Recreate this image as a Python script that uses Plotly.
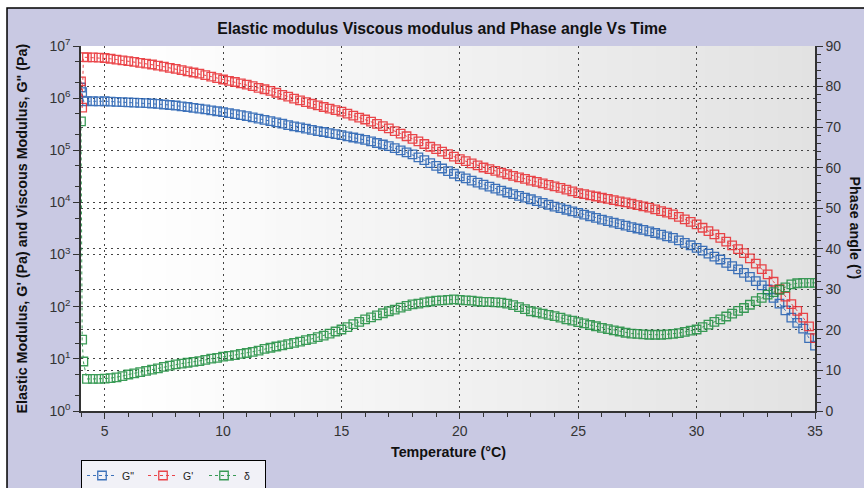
import plotly.graph_objects as go

# ---------------- data ----------------
temperature = [4.0, 4.05, 4.1,
               4.25, 4.5, 4.75, 5.0, 5.25, 5.5, 5.75, 6.0, 6.25, 6.5, 6.75, 7.0,
               7.25, 7.5, 7.75, 8.0, 8.25, 8.5, 8.75, 9.0, 9.25, 9.5, 9.75, 10.0,
               10.25, 10.5, 10.75, 11.0, 11.25, 11.5, 11.75, 12.0, 12.25, 12.5, 12.75, 13.0,
               13.25, 13.5, 13.75, 14.0, 14.25, 14.5, 14.75, 15.0, 15.25, 15.5, 15.75, 16.0,
               16.25, 16.5, 16.75, 17.0, 17.25, 17.5, 17.75, 18.0, 18.25, 18.5, 18.75, 19.0,
               19.25, 19.5, 19.75, 20.0, 20.25, 20.5, 20.75, 21.0, 21.25, 21.5, 21.75, 22.0,
               22.25, 22.5, 22.75, 23.0, 23.25, 23.5, 23.75, 24.0, 24.25, 24.5, 24.75, 25.0,
               25.25, 25.5, 25.75, 26.0, 26.25, 26.5, 26.75, 27.0, 27.25, 27.5, 27.75, 28.0,
               28.25, 28.5, 28.75, 29.0, 29.25, 29.5, 29.75, 30.0, 30.25, 30.5, 30.75, 31.0,
               31.25, 31.5, 31.75, 32.0, 32.25, 32.5, 32.75, 33.0, 33.25, 33.5, 33.75, 34.0,
               34.25, 34.5, 34.75, 35.0]

g_double_prime = [1.6e6, 1.3e6, 8.7e5,
                  8.75e5, 8.72e5, 8.70e5, 8.71e5, 8.61e5, 8.51e5, 8.41e5, 8.32e5,
                  8.20e5, 8.11e5, 8.00e5, 7.89e5, 7.73e5, 7.55e5, 7.39e5, 7.23e5,
                  6.98e5, 6.76e5, 6.53e5, 6.31e5, 6.07e5, 5.82e5, 5.60e5, 5.37e5,
                  5.14e5, 4.92e5, 4.71e5, 4.51e5, 4.28e5, 4.05e5, 3.84e5, 3.63e5,
                  3.43e5, 3.24e5, 3.05e5, 2.88e5, 2.74e5, 2.60e5, 2.47e5, 2.34e5,
                  2.24e5, 2.14e5, 2.04e5, 1.95e5, 1.85e5, 1.76e5, 1.67e5, 1.58e5,
                  1.48e5, 1.38e5, 1.29e5, 1.20e5, 1.10e5, 1.00e5, 9.12e4, 8.32e4,
                  7.33e4, 6.46e4, 5.69e4, 5.01e4, 4.47e4, 3.98e4, 3.55e4, 3.16e4,
                  2.88e4, 2.63e4, 2.40e4, 2.19e4, 2.01e4, 1.84e4, 1.69e4, 1.55e4,
                  1.44e4, 1.33e4, 1.24e4, 1.15e4, 1.06e4, 9.77e3, 9.02e3, 8.32e3,
                  7.76e3, 7.24e3, 6.76e3, 6.31e3, 5.86e3, 5.43e3, 5.05e3, 4.68e3,
                  4.38e3, 4.10e3, 3.84e3, 3.59e3, 3.37e3, 3.16e3, 2.97e3, 2.79e3,
                  2.59e3, 2.42e3, 2.24e3, 2.09e3, 1.87e3, 1.68e3, 1.51e3, 1.35e3,
                  1.19e3, 1.04e3, 914, 804, 693, 600, 518, 447,
                  372, 309, 257, 214, 148, 115, 85, 62,
                  49, 38, 25, 18]

g_prime = [2.1e6, 6.6e5, 6.1e6,
           6.07e6, 6.03e6, 5.96e6, 5.89e6, 5.69e6, 5.50e6, 5.31e6, 5.13e6,
           4.94e6, 4.76e6, 4.58e6, 4.42e6, 4.21e6, 4.01e6, 3.81e6, 3.63e6,
           3.44e6, 3.27e6, 3.10e6, 2.95e6, 2.77e6, 2.59e6, 2.43e6, 2.28e6,
           2.15e6, 2.04e6, 1.92e6, 1.82e6, 1.70e6, 1.58e6, 1.48e6, 1.38e6,
           1.27e6, 1.16e6, 1.07e6, 9.77e5, 9.07e5, 8.41e5, 7.81e5, 7.24e5,
           6.76e5, 6.31e5, 5.89e5, 5.50e5, 5.04e5, 4.62e5, 4.24e5, 3.89e5,
           3.53e5, 3.20e5, 2.90e5, 2.63e5, 2.34e5, 2.09e5, 1.86e5, 1.66e5,
           1.48e5, 1.32e5, 1.17e5, 1.05e5, 9.39e4, 8.41e4, 7.55e4, 6.76e4,
           6.17e4, 5.62e4, 5.13e4, 4.68e4, 4.34e4, 4.03e4, 3.74e4, 3.47e4,
           3.24e4, 3.02e4, 2.82e4, 2.63e4, 2.47e4, 2.32e4, 2.18e4, 2.04e4,
           1.90e4, 1.76e4, 1.63e4, 1.51e4, 1.44e4, 1.36e4, 1.30e4, 1.23e4,
           1.17e4, 1.11e4, 1.05e4, 1.00e4, 9.44e3, 8.91e3, 8.41e3, 7.94e3,
           7.38e3, 6.84e3, 6.35e3, 5.89e3, 5.28e3, 4.73e3, 4.25e3, 3.80e3,
           3.27e3, 2.82e3, 2.43e3, 2.09e3, 1.77e3, 1.50e3, 1.27e3, 1.07e3,
           847, 668, 528, 417, 301, 216, 156, 112,
           83, 62, 42, 25]

phase_angle = [71.4, 17.6, 12.2,
               7.9, 7.9, 7.9, 8.0, 8.1, 8.3, 8.6, 9.0,
               9.3, 9.6, 9.9, 10.2, 10.5, 10.9, 11.2, 11.5,
               11.7, 11.9, 12.1, 12.3, 12.6, 12.9, 13.1, 13.4,
               13.6, 13.8, 14.1, 14.3, 14.6, 14.9, 15.3, 15.6,
               15.9, 16.2, 16.5, 16.8, 17.1, 17.5, 17.8, 18.2,
               18.6, 19.1, 19.6, 20.1, 20.7, 21.4, 22.0, 22.6,
               23.1, 23.6, 24.1, 24.6, 25.0, 25.5, 25.9, 26.3,
               26.5, 26.8, 27.0, 27.2, 27.3, 27.4, 27.5, 27.4,
               27.3, 27.2, 27.0, 26.9, 26.9, 26.8, 26.7, 26.5,
               26.1, 25.6, 25.1, 24.6, 24.3, 24.0, 23.7, 23.4,
               23.0, 22.6, 22.3, 21.9, 21.6, 21.2, 20.9, 20.5,
               20.2, 19.9, 19.6, 19.3, 19.1, 19.0, 18.9, 18.8,
               18.8, 18.8, 18.9, 19.0, 19.2, 19.5, 19.8, 20.1,
               20.7, 21.3, 22.0, 22.6, 23.3, 24.0, 24.7, 25.4,
               26.2, 27.1, 27.9, 28.7, 29.3, 29.9, 30.5, 31.2,
               31.5, 31.6, 31.6, 31.6]

modulus_ticks = [1, 10, 100, 1e3, 1e4, 1e5, 1e6, 1e7]
modulus_tick_labels = ["10<sup>0</sup>", "10<sup>1</sup>", "10<sup>2</sup>", "10<sup>3</sup>",
                       "10<sup>4</sup>", "10<sup>5</sup>", "10<sup>6</sup>", "10<sup>7</sup>"]

# ---------------- styling ----------------
FONT = "Liberation Sans, Arial, sans-serif"
LAVENDER = "rgb(201,201,227)"
BLUE = "#1f5cb0"
RED = "#e8282d"
GREEN = "#1b8c3c"
GRID = dict(gridcolor="#444444", griddash="1.5px,4.5px", gridwidth=1)
TITLE_SIZE = 14.3

fig = go.Figure()

series = [("G\"", g_double_prime, BLUE, "y"),
          ("G'", g_prime, RED, "y"),
          ("δ", phase_angle, GREEN, "y2")]
for name, vals, col, ax in series:
    fig.add_trace(go.Scatter(
        x=temperature, y=vals, name=name, yaxis=ax, mode="lines+markers",
        line=dict(color=col, width=1, dash="dot"),
        marker=dict(symbol="square-open", size=8.5, color=col, line=dict(width=1.3, color=col)),
        opacity=0.85))

# background: lavender panel with black frame, gradient plot area
shapes = [dict(type="rect", xref="paper", yref="paper", x0=-0.1008, x1=1.2, y0=-0.4, y1=1.104,
               fillcolor=LAVENDER, line=dict(color="black", width=1.5), layer="below")]
n = 60
for i in range(n):
    f = i / (n - 1)
    t = max(0.0, (f - 0.06) / 0.94)
    g = int(round(255 - t * (255 - 226)))
    shapes.append(dict(type="rect", xref="paper", yref="paper", x0=i / n, x1=(i + 1) / n + 0.002,
                       y0=0, y1=1, fillcolor=f"rgb({g},{g},{g})", line=dict(width=0), layer="below"))

annotations = [
    dict(text="<b>Elastic Modulus, G' (Pa) and Viscous Modulus, G\" (Pa)</b>", xref="paper", yref="paper",
         x=-0.0804, y=0.5, xanchor="center", yanchor="middle", textangle=-90, showarrow=False,
         font=dict(size=TITLE_SIZE, color="#111", family=FONT)),
    dict(text="<b>Phase angle (°)</b>", xref="paper", yref="paper",
         x=(855 - 81) / 734, y=0.5, xanchor="center", yanchor="middle", textangle=90, showarrow=False,
         font=dict(size=TITLE_SIZE, color="#111", family=FONT)),
    dict(text="<b>Temperature (°C)</b>", xref="paper", yref="paper",
         x=0.5, y=-0.112, xanchor="center", yanchor="middle", showarrow=False,
         font=dict(size=TITLE_SIZE, color="#111", family=FONT)),
]

axis_common = dict(showline=True, linecolor="#333", linewidth=1.5, zeroline=False,
                   tickfont=dict(size=14, color="#333", family=FONT), automargin=False,
                   ticks="outside", tickcolor="#333")

fig.update_layout(
    width=864, height=488,
    margin=dict(l=81, r=49, t=46, b=77),
    paper_bgcolor="white", plot_bgcolor="rgba(0,0,0,0)",
    font=dict(family=FONT),
    title=dict(text="<b>Elastic modulus Viscous modulus and Phase angle Vs Time</b>",
               x=0.5116, xref="container", xanchor="center",
               y=1 - 28 / 488, yref="container", yanchor="middle",
               font=dict(size=15.8, color="#111", family=FONT)),
    xaxis=dict(range=[4, 35], tickvals=[5, 10, 15, 20, 25, 30, 35], showgrid=True, **GRID,
               ticklen=6, minor=dict(dtick=1, ticks="outside", ticklen=4, tickcolor="#333", showgrid=False),
               **axis_common),
    xaxis2=dict(range=[4, 35], overlaying="x", side="top", anchor="y", showline=False,
                showgrid=False, showticklabels=False, ticks="inside", ticklen=5, tickcolor="#333",
                dtick=5, tick0=0, zeroline=False,
                minor=dict(dtick=1, ticks="inside", ticklen=3, tickcolor="#333")),
    yaxis=dict(type="log", range=[0, 7], tickvals=modulus_ticks, ticktext=modulus_tick_labels,
               showgrid=True, **GRID, ticklen=6,
               minor=dict(ticks="outside", ticklen=4, tickcolor="#333", showgrid=False),
               **axis_common),
    yaxis2=dict(range=[0, 90], overlaying="y", side="right", anchor="x", dtick=10, showgrid=True, **GRID,
                ticklen=6, minor=dict(dtick=2, ticks="outside", ticklen=4, tickcolor="#333"),
                **axis_common),
    legend=dict(orientation="h", x=81 / 864, xref="container", xanchor="left",
                y=(488 - 475.5) / 488, yref="container", yanchor="middle",
                bgcolor="#f1f1f7", bordercolor="black", borderwidth=1,
                font=dict(size=10.5, color="#222", family=FONT), itemwidth=30,
                entrywidth=16, entrywidthmode="pixels",
                tracegroupgap=0),
    shapes=shapes,
    annotations=annotations,
    showlegend=True,
)

fig.write_html("out.html", config={"displayModeBar": False},
               post_script="document.body.style.margin='0px';")
